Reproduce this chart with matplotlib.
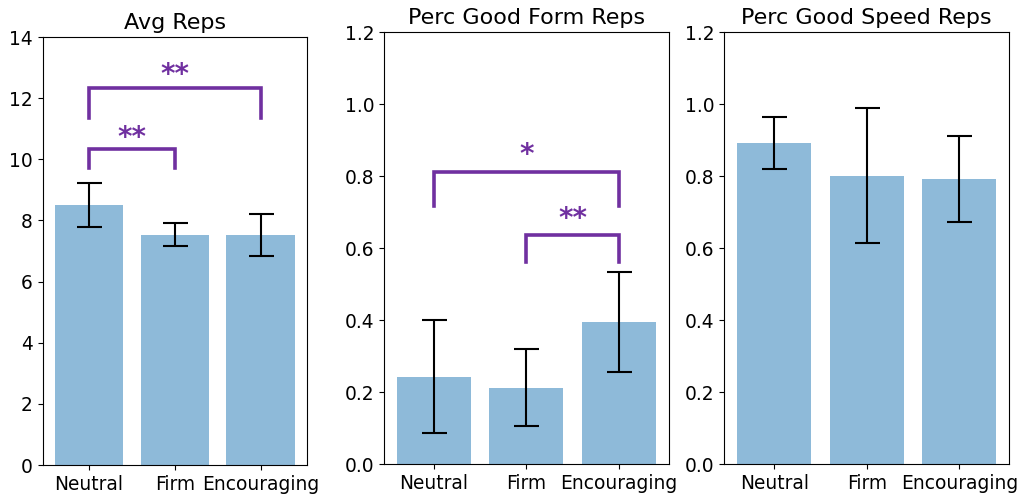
import numpy as np
import matplotlib
matplotlib.use('Agg')
import matplotlib.pyplot as plt

conditions = ['Neutral', 'Firm', 'Encouraging']

avg_reps = [8.50, 7.53, 7.53]
avg_reps_err = [0.72, 0.38, 0.68]

form_perc = [0.243, 0.212, 0.395]
form_perc_err = [0.158, 0.107, 0.140]

speed_perc = [0.892, 0.801, 0.792]
speed_perc_err = [0.073, 0.188, 0.120]

# significance brackets: (left bar, right bar, bar y, leg bottom y, text y, label)
avg_sig = [(0, 1, 10.33, 9.70, 10.70, '**'),
           (0, 2, 12.32, 11.34, 12.77, '**')]
form_sig = [(0, 2, 0.811, 0.717, 0.860, '*'),
            (1, 2, 0.637, 0.562, 0.682, '**')]

SIG_COLOR = '#7030a0'

fig = plt.figure(figsize=(10.24, 4.95), dpi=100)
ax1 = fig.add_axes([0.0417, 0.0606, 0.2581, 0.8646])
ax2 = fig.add_axes([0.3750, 0.0626, 0.2783, 0.8721])
ax3 = fig.add_axes([0.7073, 0.0626, 0.2783, 0.8721])

x = np.arange(len(conditions))


def draw_panel(ax, vals, errs, title, ylim, sig=()):
    ax.bar(x, vals, yerr=errs, width=0.8, color='C0', alpha=0.5,
           capsize=9, error_kw=dict(ecolor='black', elinewidth=1.5, capthick=1.5))
    ax.set_xticks(x)
    ax.set_xticklabels(conditions, fontsize=13.4)
    ax.tick_params(axis='y', labelsize=13.4)
    ax.set_ylim(*ylim)
    ax.set_title(title, fontsize=16)
    for a, b, ytop, ybot, ytxt, lab in sig:
        ax.plot([a, a, b, b], [ybot, ytop, ytop, ybot], color=SIG_COLOR,
                lw=2.6, solid_joinstyle='miter')
        ax.text((a + b) / 2, ytxt, lab, ha='center', va='center',
                color=SIG_COLOR, fontsize=20, fontweight='bold')


draw_panel(ax1, avg_reps, avg_reps_err, 'Avg Reps', (0, 14), avg_sig)
draw_panel(ax2, form_perc, form_perc_err, 'Perc Good Form Reps', (0, 1.2), form_sig)
draw_panel(ax3, speed_perc, speed_perc_err, 'Perc Good Speed Reps', (0, 1.2))

fig.savefig('out.png', dpi=100)
